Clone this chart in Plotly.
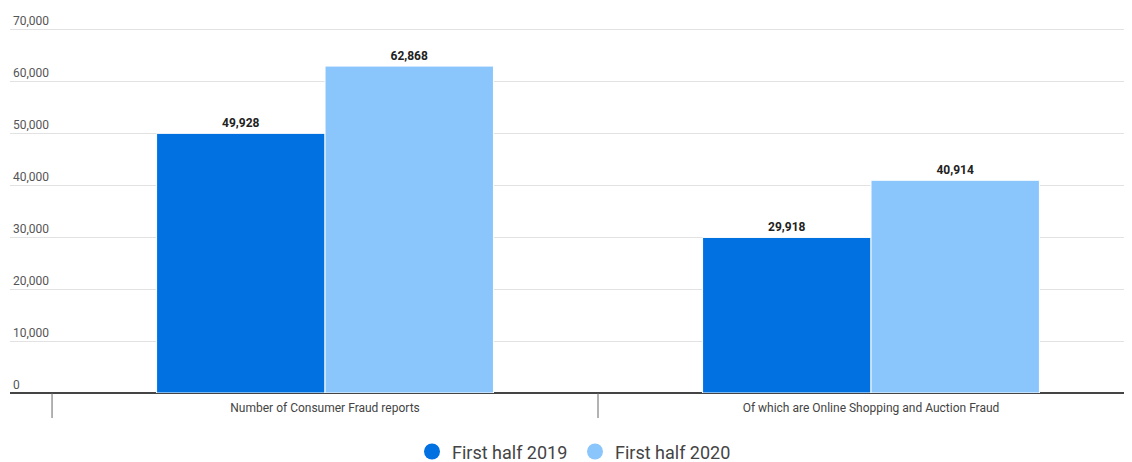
import plotly.graph_objects as go

categories = ["Number of Consumer Fraud reports", "Of which are Online Shopping and Auction Fraud"]
series_names = ["First half 2019", "First half 2020"]
values_2019 = [49928, 29918]
values_2020 = [62868, 40914]
colors = ["#0170E0", "#8AC6FC"]
y_ticks = [0, 10000, 20000, 30000, 40000, 50000, 60000, 70000]

fig = go.Figure()
for name, vals, col in zip(series_names, [values_2019, values_2020], colors):
    fig.add_trace(go.Bar(
        x=categories, y=vals, name=name, marker=dict(color=col, line=dict(color="white", width=1)),
        texttemplate="%{y:,}", textposition="outside", cliponaxis=False,
        textfont=dict(family="Roboto", size=12, color="#222", weight="bold"),
        showlegend=False,
    ))
for name, col in zip(series_names, colors):
    fig.add_trace(go.Scatter(x=[None], y=[None], mode="markers", name=name,
                             marker=dict(color=col, size=18, symbol="circle")))

plot_h = 380
for b in [-0.5, 0.5, 1.5]:
    fig.add_shape(type="line", xref="x", yref="paper", x0=b, x1=b, y0=0, y1=-25 / plot_h,
                  line=dict(color="#666", width=1))

fig.update_layout(
    width=1132, height=462,
    margin=dict(l=2, r=0, t=5, b=77, autoexpand=False),
    paper_bgcolor="white", plot_bgcolor="white",
    barmode="group", bargap=0.383, bargroupgap=0.0,
    font=dict(family="Roboto", color="#444"),
    xaxis=dict(range=[-0.577, 1.4927], showgrid=False, ticks="", automargin=False,
               tickfont=dict(size=12, color="#444"), showline=False, ticklabelstandoff=6),
    yaxis=dict(range=[0, 73077], tickvals=y_ticks, tickformat=",", showgrid=True, automargin=False,
               gridcolor="#e2e2e2", gridwidth=1, zeroline=True, zerolinecolor="#444",
               zerolinewidth=1.5, ticklabelposition="inside top",
               tickfont=dict(size=12, color="#555")),
    legend=dict(orientation="h", x=0.5, xanchor="center", y=-0.106, yanchor="top",
                font=dict(size=18, color="#444"), itemwidth=30, tracegroupgap=0,
                entrywidth=118),
)

fig.write_html("out.html")
